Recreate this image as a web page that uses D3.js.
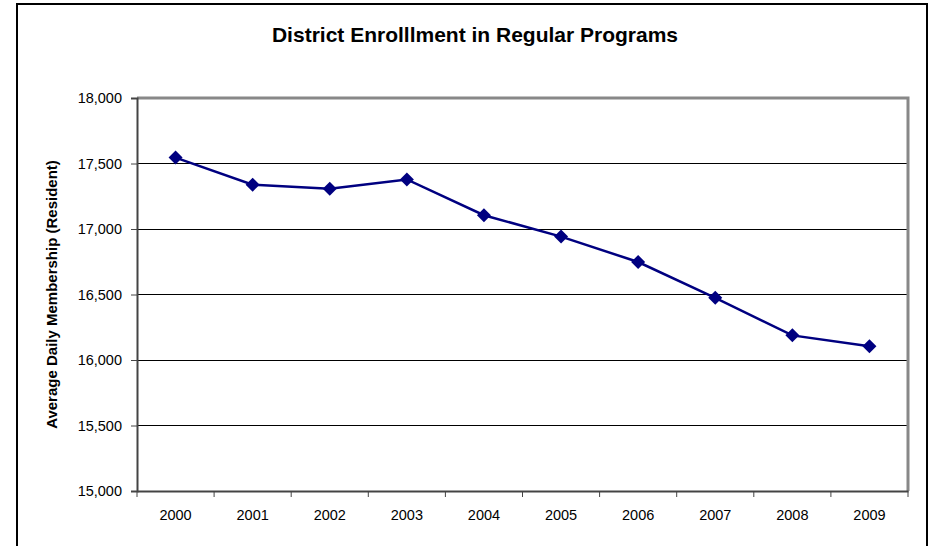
<!DOCTYPE html>
<html>
<head>
<meta charset="utf-8">
<script src="https://cdn.jsdelivr.net/npm/d3@7"></script>
<style>
  body { margin: 0; background: #fff; }
  text { font-family: "Liberation Sans", Arial, sans-serif; }
</style>
</head>
<body>
<svg width="930" height="546"></svg>
<script>
// chart data
var years = ["2000","2001","2002","2003","2004","2005","2006","2007","2008","2009"];
var enrollment = [17545, 17338, 17308, 17378, 17105, 16942, 16748, 16475, 16188, 16105];
var yTicks = [15000, 15500, 16000, 16500, 17000, 17500, 18000];

var svg = d3.select("svg");
var plot = {left: 137, top: 98, right: 908, bottom: 491};

// outer frame (no bottom edge visible)
svg.append("path")
  .attr("d", "M17,546 V4 H927 V546")
  .attr("fill", "none")
  .attr("stroke", "#000")
  .attr("stroke-width", 2);

svg.append("text")
  .attr("x", 475).attr("y", 42)
  .attr("text-anchor", "middle")
  .style("font-size", "21px").attr("font-weight", "bold")
  .text("District Enrolllment in Regular Programs");

var x = d3.scaleBand().domain(years).range([plot.left, plot.right]);
var y = d3.scaleLinear().domain([15000, 18000]).range([plot.bottom, plot.top]);

// gridlines
svg.append("g").selectAll("line")
  .data(yTicks.slice(1, -1))
  .enter().append("line")
  .attr("x1", plot.left).attr("x2", plot.right)
  .attr("y1", function(d){ return y(d); })
  .attr("y2", function(d){ return y(d); })
  .attr("stroke", "#000").attr("stroke-width", 1)
  .attr("shape-rendering", "crispEdges");

// top and right border of plot area (gray)
svg.append("path")
  .attr("d", "M" + plot.left + "," + plot.top + " H" + plot.right + " V" + plot.bottom)
  .attr("fill", "none")
  .attr("stroke", "#888").attr("stroke-width", 3);

// y axis
var yAxis = svg.append("g")
  .attr("transform", "translate(" + plot.left + ",0)")
  .call(d3.axisLeft(y).tickValues(yTicks).tickSize(6).tickPadding(9).tickFormat(d3.format(",")));
yAxis.attr("font-size", null).attr("font-family", null);
yAxis.select(".domain").attr("stroke", "#444").attr("stroke-width", 2);
yAxis.selectAll(".tick line").attr("stroke", "#444");
yAxis.selectAll("text").style("font-size", "14.5px").attr("fill", "#000");

// x axis with ticks between categories
var xAxis = svg.append("g")
  .attr("transform", "translate(0," + plot.bottom + ")")
  .call(d3.axisBottom(x).tickSize(0).tickPadding(19));
xAxis.attr("font-size", null).attr("font-family", null);
xAxis.select(".domain").attr("stroke", "#444").attr("stroke-width", 2);
xAxis.selectAll("text").style("font-size", "14.5px").attr("fill", "#000");
xAxis.selectAll(".sep")
  .data(years.concat(["end"]))
  .enter().append("line")
  .attr("class", "sep")
  .attr("x1", function(d, i){ return plot.left + i * x.step(); })
  .attr("x2", function(d, i){ return plot.left + i * x.step(); })
  .attr("y1", 0).attr("y2", 6)
  .attr("stroke", "#444");

// y label
svg.append("text")
  .attr("transform", "translate(57," + ((plot.top + plot.bottom) / 2) + ") rotate(-90)")
  .attr("text-anchor", "middle")
  .style("font-size", "15px").attr("font-weight", "bold")
  .text("Average Daily Membership (Resident)");

// series
var pts = years.map(function(d, i){ return {year: d, v: enrollment[i]}; });
var line = d3.line()
  .x(function(d){ return x(d.year) + x.bandwidth() / 2; })
  .y(function(d){ return y(d.v); });

svg.append("path")
  .datum(pts)
  .attr("d", line)
  .attr("fill", "none")
  .attr("stroke", "#000080")
  .attr("stroke-width", 2.5);

svg.append("g").selectAll("path")
  .data(pts)
  .enter().append("path")
  .attr("d", d3.symbol().type(d3.symbolDiamond2).size(125))
  .attr("transform", function(d){
    return "translate(" + (x(d.year) + x.bandwidth() / 2) + "," + y(d.v) + ")";
  })
  .attr("fill", "#000080");
</script>
</body>
</html>
